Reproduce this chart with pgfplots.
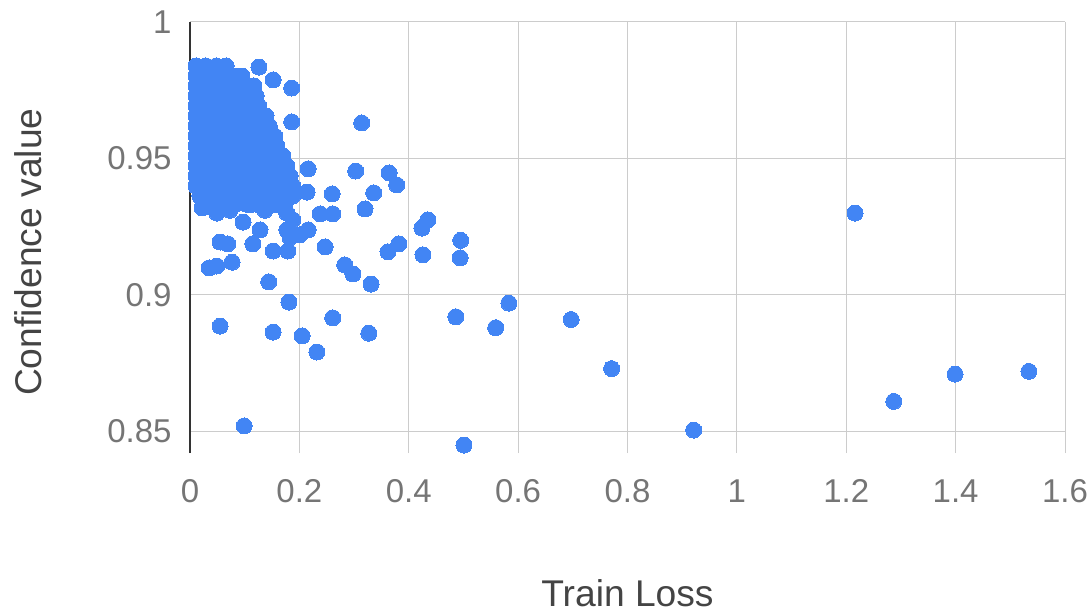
\documentclass[border=0pt]{standalone}
\usepackage{pgfplots}
\pgfplotsset{compat=1.18}
\usepackage{fontspec}
\setmainfont{Liberation Sans}
\definecolor{gblue}{HTML}{4285F4}
\definecolor{gridgray}{HTML}{CCCCCC}
\definecolor{axisdark}{HTML}{333333}
\definecolor{ticktext}{HTML}{757575}
\definecolor{titletext}{HTML}{444444}
\pgfplotstableread{
x y
0.011 0.9839
0.029 0.9839
0.048 0.9839
0.066 0.9839
0.011 0.9802
0.029 0.9802
0.048 0.9802
0.066 0.9802
0.084 0.9802
0.095 0.9802
0.011 0.9766
0.029 0.9766
0.048 0.9766
0.066 0.9766
0.084 0.9766
0.102 0.9766
0.117 0.9766
0.011 0.9729
0.029 0.9729
0.048 0.9729
0.066 0.9729
0.084 0.9729
0.102 0.9729
0.121 0.9729
0.011 0.9692
0.029 0.9692
0.048 0.9692
0.066 0.9692
0.084 0.9692
0.102 0.9692
0.126 0.9692
0.011 0.9656
0.029 0.9656
0.048 0.9656
0.066 0.9656
0.084 0.9656
0.102 0.9656
0.121 0.9656
0.139 0.9656
0.011 0.9619
0.029 0.9619
0.048 0.9619
0.066 0.9619
0.084 0.9619
0.102 0.9619
0.121 0.9619
0.145 0.9619
0.011 0.9582
0.029 0.9582
0.048 0.9582
0.066 0.9582
0.084 0.9582
0.102 0.9582
0.121 0.9582
0.139 0.9582
0.155 0.9582
0.011 0.9546
0.029 0.9546
0.048 0.9546
0.066 0.9546
0.084 0.9546
0.102 0.9546
0.121 0.9546
0.139 0.9546
0.159 0.9546
0.011 0.9509
0.029 0.9509
0.048 0.9509
0.066 0.9509
0.084 0.9509
0.102 0.9509
0.121 0.9509
0.139 0.9509
0.157 0.9509
0.170 0.9509
0.011 0.9473
0.029 0.9473
0.048 0.9473
0.066 0.9473
0.084 0.9473
0.102 0.9473
0.121 0.9473
0.139 0.9473
0.157 0.9473
0.177 0.9473
0.011 0.9436
0.029 0.9436
0.048 0.9436
0.066 0.9436
0.084 0.9436
0.102 0.9436
0.121 0.9436
0.139 0.9436
0.157 0.9436
0.170 0.9436
0.183 0.9436
0.011 0.9399
0.029 0.9399
0.048 0.9399
0.066 0.9399
0.084 0.9399
0.102 0.9399
0.121 0.9399
0.139 0.9399
0.157 0.9399
0.174 0.9399
0.188 0.9399
0.018 0.9363
0.036 0.9363
0.054 0.9363
0.072 0.9363
0.090 0.9363
0.108 0.9363
0.126 0.9363
0.144 0.9363
0.162 0.9363
0.178 0.9363
0.188 0.9363
0.027 0.9333
0.048 0.9333
0.066 0.9333
0.084 0.9333
0.102 0.9333
0.121 0.9333
0.139 0.9333
0.157 0.9333
0.174 0.9333
1.216 0.930
1.287 0.861
1.399 0.871
1.534 0.872
0.921 0.8505
0.771 0.873
0.697 0.891
0.583 0.897
0.559 0.888
0.486 0.892
0.501 0.845
0.495 0.920
0.494 0.9136
0.435 0.9275
0.424 0.9245
0.426 0.9147
0.382 0.9187
0.362 0.9158
0.378 0.9403
0.364 0.9447
0.336 0.9374
0.320 0.9315
0.314 0.963
0.303 0.9454
0.260 0.937
0.261 0.9297
0.238 0.9297
0.247 0.9176
0.283 0.911
0.298 0.9077
0.331 0.904
0.327 0.886
0.261 0.8916
0.232 0.8791
0.205 0.885
0.152 0.8864
0.181 0.8974
0.144 0.9048
0.055 0.8886
0.099 0.852
0.216 0.9462
0.214 0.9377
0.216 0.9238
0.201 0.922
0.179 0.9161
0.152 0.9161
0.115 0.9187
0.077 0.912
0.049 0.9106
0.035 0.9099
0.055 0.9194
0.069 0.9187
0.022 0.9319
0.049 0.930
0.097 0.9267
0.128 0.9238
0.186 0.9634
0.186 0.9758
0.152 0.9788
0.126 0.9835
0.177 0.930
0.188 0.9275
0.177 0.9238
0.183 0.921
0.073 0.931
0.137 0.931
0.110 0.933
0.155 0.933
}\datatable
\begin{document}
\begin{tikzpicture}
\path[use as bounding box] (0,0) rectangle (546bp,305.5bp);
\begin{axis}[
  at={(95bp,79bp)}, anchor=south west,
  scale only axis, width=437.5bp, height=215.5bp,
  xmin=0, xmax=1.6, ymin=0.8421, ymax=1,
  xtick={0.2,0.4,0.6,0.8,1,1.2,1.4,1.6},
  xticklabels={0.2,0.4,0.6,0.8,1,1.2,1.4,1.6},
  extra x ticks={0}, extra x tick labels={0},
  extra x tick style={grid=major, grid style={draw=axisdark, line width=0.8bp}},
  ytick={0.85,0.9,0.95,1},
  yticklabels={0.85,0.9,0.95,1},
  grid=major, grid style={draw=gridgray, line width=0.5bp},
  major tick length=0pt,
  axis line style={draw=none},
  tick label style={font=\fontsize{16.5bp}{18bp}\selectfont, text=ticktext},
  xticklabel style={anchor=north, inner sep=0pt, yshift=-13bp},
  yticklabel style={anchor=east, inner sep=0pt, xshift=-9bp},
  xlabel={Train Loss}, ylabel={Confidence value},
  label style={font=\fontsize{18.6bp}{20bp}\selectfont, text=titletext},
  xlabel style={at={(axis description cs:0.5,-0.3248)}, anchor=center},
  ylabel style={at={(axis description cs:-0.1851,0.466)}, anchor=center},
]
\addplot[only marks, mark=*, color=gblue, mark size=4bp, mark options={fill=gblue, draw=gblue, line width=0pt}] table[x=x, y=y] {\datatable};
\end{axis}
\end{tikzpicture}
\end{document}
